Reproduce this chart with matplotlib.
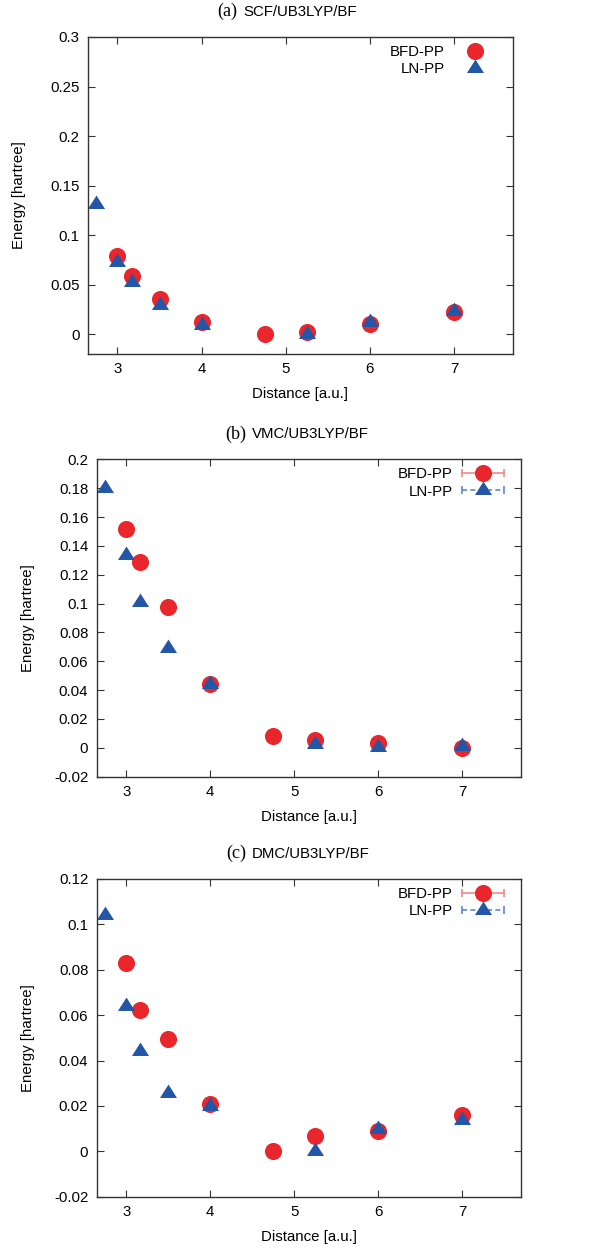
import numpy as np
import matplotlib
matplotlib.use("Agg")
import matplotlib.pyplot as plt
from matplotlib.lines import Line2D
from matplotlib.legend_handler import HandlerTuple, HandlerLine2D
from matplotlib.ticker import FuncFormatter, MultipleLocator

plt.rcParams['font.family'] = ['Liberation Sans', 'DejaVu Sans']

# distances (a.u.)
dist_bfd = [3.0, 3.17, 3.5, 4.0, 4.75, 5.25, 6.0, 7.0]
dist_ln = [2.75, 3.0, 3.17, 3.5, 4.0, 5.25, 6.0, 7.0]

# (a) SCF
scf_bfd = [0.0794, 0.0592, 0.0353, 0.0124, 0.0, 0.0020, 0.0100, 0.0220]
scf_ln = [0.131, 0.0733, 0.0530, 0.0296, 0.0094, 0.0, 0.0120, 0.0235]

# (b) VMC
vmc_bfd = [0.1516, 0.1285, 0.0975, 0.0441, 0.0081, 0.0053, 0.0037, 0.0]
vmc_ln = [0.180, 0.134, 0.101, 0.069, 0.0444, 0.0028, 0.0005, 0.0014]

# (c) DMC
dmc_bfd = [0.0831, 0.0623, 0.0495, 0.0207, 0.0, 0.0069, 0.0091, 0.0160]
dmc_ln = [0.104, 0.0639, 0.0441, 0.0257, 0.0198, 0.0, 0.0097, 0.0140]

panels = [
    ("(a)", "SCF/UB3LYP/BF", scf_bfd, scf_ln, (-0.02, 0.3), 0.05, False),
    ("(b)", "VMC/UB3LYP/BF", vmc_bfd, vmc_ln, (-0.02, 0.2), 0.02, True),
    ("(c)", "DMC/UB3LYP/BF", dmc_bfd, dmc_ln, (-0.02, 0.12), 0.02, True),
]

RED = '#e8262b'
BLUE = '#2356a6'
RED_LIGHT = '#f08a8a'
BLUE_LIGHT = '#5f86d0'

# triangle centred on its centroid (gnuplot style)
TRI = [(-1, -0.526), (1, -0.526), (0, 1.051), (-1, -0.526)]

W, H = 589, 1253
fig = plt.figure(figsize=(W / 100, H / 100), dpi=100)

# axes boxes in pixels: left, top, right, bottom
boxes = [(88, 37, 513, 354), (96.7, 459.3, 521, 776.7), (96.7, 879, 521, 1196.7)]

fmt = FuncFormatter(lambda v, p: "%g" % round(v, 6))

for (tag, name, bfd, ln, ylim, step, errs), (l, t, r, b) in zip(panels, boxes):
    ax = fig.add_axes([l / W, 1 - b / H, (r - l) / W, (b - t) / H])
    ax.plot(dist_bfd, bfd, 'o', color=RED, markersize=12.3, markeredgewidth=0)
    ax.plot(dist_ln, ln, marker=TRI, ls='none', color=BLUE, markersize=12.9,
            markeredgewidth=0)

    ax.set_xlim(2.65, 7.7)
    ax.set_ylim(*ylim)
    ax.xaxis.set_major_locator(MultipleLocator(1))
    ax.yaxis.set_major_locator(MultipleLocator(step))
    ax.yaxis.set_major_formatter(fmt)
    ax.tick_params(direction='in', top=True, right=True, length=5, width=0.8,
                   labelsize=10.8, pad=6, color='#333333')
    for s in ax.spines.values():
        s.set_linewidth(1.0)
        s.set_color('#333333')

    ax.set_xlabel("Distance [a.u.]", fontsize=10.8)
    ax.set_ylabel("Energy [hartree]", fontsize=10.8)
    ax.xaxis.set_label_coords(0.5, -0.105)
    ax.yaxis.set_label_coords(-0.146, 0.5)

    ax.text(0.352, 1.08, tag, transform=ax.transAxes, ha='right', va='center',
            fontsize=13, family='Liberation Serif')
    ax.text(0.366, 1.08, name, transform=ax.transAxes, ha='left', va='center',
            fontsize=10.8)

    dot_r = Line2D([], [], color=RED, marker='o', ls='none', markersize=12.3,
                   markeredgewidth=0)
    dot_b = Line2D([], [], color=BLUE, marker=TRI, ls='none', markersize=12.9,
                   markeredgewidth=0)
    hmap = {dot_r: HandlerLine2D(numpoints=1), dot_b: HandlerLine2D(numpoints=1),
            tuple: HandlerTuple(ndivide=1)}
    if errs:
        bar_r = Line2D([], [], color=RED_LIGHT, ls='-', lw=1.2, marker='|',
                       markersize=6, markeredgewidth=1.2)
        bar_b = Line2D([], [], color=BLUE_LIGHT, ls=(0, (3, 2)), lw=1.2, marker='|',
                       markersize=6, markeredgewidth=1.2)
        hmap[bar_r] = HandlerLine2D(numpoints=2, marker_pad=0)
        hmap[bar_b] = HandlerLine2D(numpoints=2, marker_pad=0)
        handles = [(bar_r, dot_r), (bar_b, dot_b)]
    else:
        handles = [dot_r, dot_b]
    ax.legend(handles, ["BFD-PP", "LN-PP"], handler_map=hmap, loc='upper right',
              bbox_to_anchor=(1 - 17 / (r - l), 1 - 8 / (b - t)), borderaxespad=0,
              borderpad=0, frameon=False, markerfirst=False, fontsize=10.8,
              handlelength=2.8, handletextpad=0.6, labelspacing=0.22)

fig.savefig("out.png", dpi=100)
